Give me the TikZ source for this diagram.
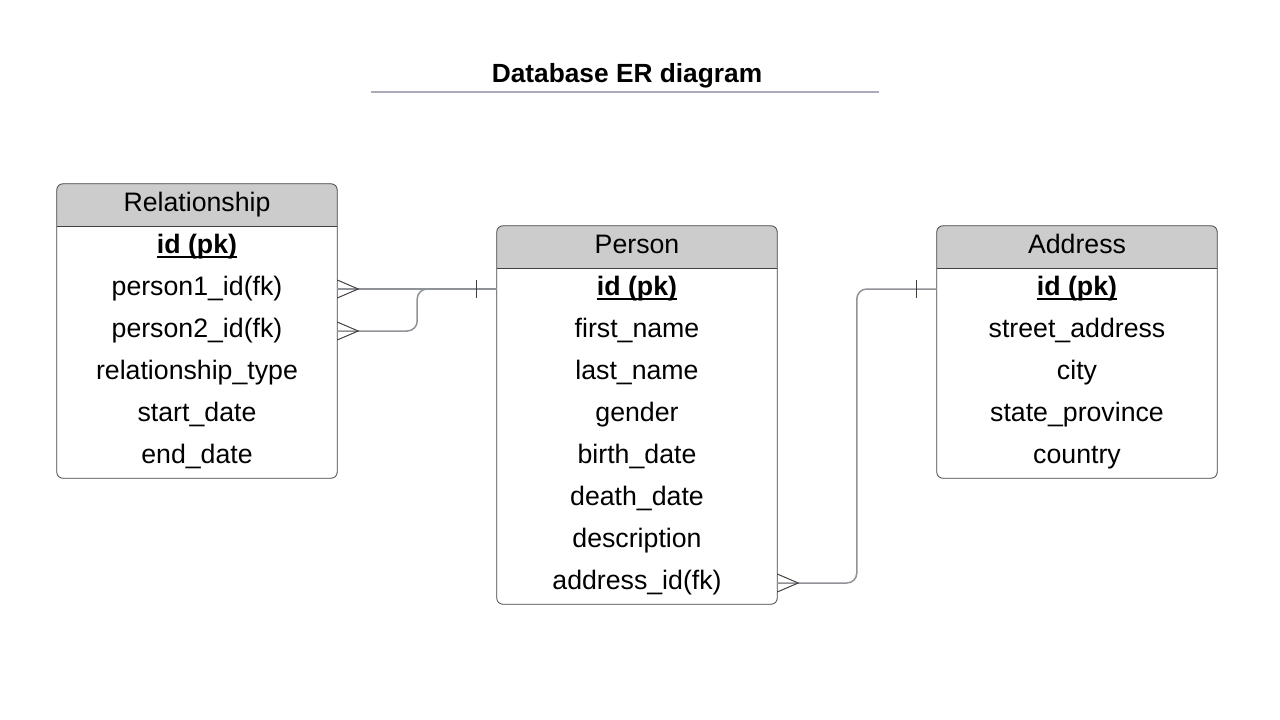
\documentclass[tikz,border=0pt]{standalone}
\usepackage{fontspec}
\setmainfont{Liberation Sans}
\usetikzlibrary{positioning}
\pgfdeclarelayer{background}
\pgfsetlayers{background,main}
\definecolor{hdrgray}{HTML}{CCCCCC}
\definecolor{linegray}{HTML}{8F9296}
\definecolor{edgegray}{HTML}{404040}
\definecolor{rulegray}{HTML}{A9ABB8}
\newcommand{\erfont}{\fontsize{26.7}{32}\selectfont}
\newsavebox{\pkbox}
\newcommand{\pkey}[1]{\sbox{\pkbox}{\textbf{#1}}\rlap{\rule[-4pt]{\wd\pkbox}{2pt}}\usebox{\pkbox}}
\tikzset{
  field/.style={minimum width=280pt, minimum height=42pt, inner sep=0pt,
    text height=19pt, text depth=6pt, font=\erfont},
  tablebox/.style={draw=edgegray, line width=0.8pt, rounded corners=6pt},
  conn/.style={draw=linegray, line width=1.5pt, rounded corners=10pt},
  crowfoot/.pic={\draw[edgegray, line width=1pt] (0,-9) -- (21,0) -- (0,9);},
  onetick/.pic={\draw[edgegray, line width=1pt] (0,-9) -- (0,9);},
}
\begin{document}
\begin{tikzpicture}[x=1pt, y=-1pt]
    \useasboundingbox (0,0) rectangle (1280,720);
    \node[font=\fontsize{26.3}{32}\selectfont\bfseries, text height=19pt, text depth=6pt]
        (title) at (627,76) {Database ER diagram};
    \draw[rulegray, line width=2pt] (371,92) -- (879,92);

    % Relationship table
    \node[field] (r0) at (197,205) {Relationship};
    \foreach \txt [count=\i] in {\pkey{id (pk)}, person1\_id(fk), person2\_id(fk),
        relationship\_type, start\_date, end\_date}
        \node[field] (r\i) at (197,{205+42*\i}) {\txt};

    % Person table
    \node[field] (p0) at (637,247) {Person};
    \foreach \txt [count=\i] in {\pkey{id (pk)}, first\_name, last\_name, gender,
        birth\_date, death\_date, description, address\_id(fk)}
        \node[field] (p\i) at (637,{247+42*\i}) {\txt};

    % Address table
    \node[field] (a0) at (1077,247) {Address};
    \foreach \txt [count=\i] in {\pkey{id (pk)}, street\_address, city,
        state\_province, country}
        \node[field] (a\i) at (1077,{247+42*\i}) {\txt};

    \begin{pgfonlayer}{background}
        \foreach \t in {r,p,a} {
            \fill[hdrgray, rounded corners=6pt] (\t0.south west) rectangle (\t0.north east);
            \fill[hdrgray] (\t0.west) rectangle (\t0.south east);
        }
    \end{pgfonlayer}
    \draw[tablebox] (r0.north west) rectangle (r6.south east);
    \draw[tablebox] (p0.north west) rectangle (p8.south east);
    \draw[tablebox] (a0.north west) rectangle (a5.south east);
    \draw[edgegray, line width=0.8pt] (r0.south west) -- (r0.south east);
    \draw[edgegray, line width=0.8pt] (p0.south west) -- (p0.south east);
    \draw[edgegray, line width=0.8pt] (a0.south west) -- (a0.south east);

    % links
    \draw[conn] (r2.east) -- (p1.west);
    \draw[conn] (r3.east) -- ++(80,0) |- (p1.west);
    \draw[conn] (a1.west) -- ++(-80,0) |- (p8.east);
    \pic at (r2.east) {crowfoot};
    \pic at (r3.east) {crowfoot};
    \pic at (p8.east) {crowfoot};
    \pic at ([xshift=-20pt]p1.west) {onetick};
    \pic at ([xshift=-20pt]a1.west) {onetick};
\end{tikzpicture}
\end{document}
